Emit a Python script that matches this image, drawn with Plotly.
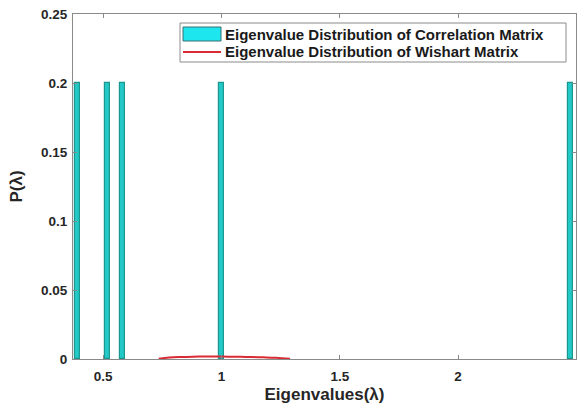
import plotly.graph_objects as go

# Eigenvalues of the correlation matrix and their relative frequencies
eigenvalues = [0.390, 0.519, 0.582, 1.00, 2.473]
probabilities = [0.2, 0.2, 0.2, 0.2, 0.2]

# Theoretical (Wishart / Marchenko-Pastur) density sampled on its support
wishart_x = [0.735, 0.78, 0.83, 0.88, 0.93, 0.98, 1.03, 1.08, 1.13, 1.18, 1.23, 1.29]
wishart_p = [0.0002, 0.0011, 0.0015, 0.0017, 0.0018, 0.0018, 0.0017, 0.0016, 0.0014, 0.0012, 0.0009, 0.0002]

x_ticks = [0.5, 1, 1.5, 2]
x_tick_text = ["0.5", "1", "1.5", "2"]
y_ticks = [0, 0.05, 0.1, 0.15, 0.2, 0.25]
y_tick_text = ["0", "0.05", "0.1", "0.15", "0.2", "0.25"]

legend_labels = [
    "Eigenvalue Distribution of Correlation Matrix",
    "Eigenvalue Distribution of Wishart Matrix",
]

bar_fill = "#22c9c6"
bar_edge = "#1c9690"
curve_color = "#d92b33"
axis_color = "#8a8a8a"
font_family = "Liberation Sans, Arial, sans-serif"

W, H = 577, 410
M_L, M_R, M_T, M_B = 73, 1, 14, 51
PW, PH = W - M_L - M_R, H - M_T - M_B


def px_x(p):
    # pixel column -> paper x
    return (p - M_L) / PW


def px_y(p):
    # pixel row -> paper y
    return (H - M_B - p) / PH


fig = go.Figure()
fig.add_trace(go.Bar(
    x=eigenvalues,
    y=probabilities,
    width=0.021,
    marker=dict(color=bar_fill, line=dict(color=bar_edge, width=1.2)),
    name=legend_labels[0],
    showlegend=False,
))
fig.add_trace(go.Scatter(
    x=wishart_x,
    y=wishart_p,
    mode="lines",
    line=dict(color=curve_color, width=2, shape="spline"),
    name=legend_labels[1],
    showlegend=False,
))

# Legend box drawn in paper coordinates
shapes = [
    dict(type="rect", xref="paper", yref="paper",
         x0=px_x(180), x1=px_x(566), y0=px_y(62), y1=px_y(23),
         line=dict(color=axis_color, width=1), fillcolor="white", layer="above"),
    dict(type="rect", xref="paper", yref="paper",
         x0=px_x(183), x1=px_x(221), y0=px_y(41), y1=px_y(27),
         line=dict(color="#3a6f73", width=1), fillcolor="#1ee6ee", layer="above"),
    dict(type="line", xref="paper", yref="paper",
         x0=px_x(183), x1=px_x(221), y0=px_y(52), y1=px_y(52),
         line=dict(color=curve_color, width=2), layer="above"),
]
annotations = [
    dict(xref="paper", yref="paper", x=px_x(223), y=px_y(row_y),
         xanchor="left", yanchor="middle", showarrow=False,
         text="<b>%s</b>" % label,
         font=dict(family=font_family, size=15, color="#1a1a1a"))
    for label, row_y in zip(legend_labels, [34, 51])
]

axis_common = dict(
    showline=True,
    linecolor=axis_color,
    linewidth=1,
    mirror="ticks",
    ticks="inside",
    ticklen=4,
    tickcolor=axis_color,
    showgrid=False,
    zeroline=False,
    tickfont=dict(family=font_family, size=13.5, color="#262626"),
)

fig.update_layout(
    width=W,
    height=H,
    margin=dict(l=M_L, r=M_R, t=M_T, b=M_B),
    paper_bgcolor="white",
    plot_bgcolor="white",
    bargap=0,
    shapes=shapes,
    annotations=annotations,
    xaxis=dict(
        range=[0.373, 2.498],
        tickvals=x_ticks,
        ticktext=["<b>%s</b>" % t for t in x_tick_text],
        ticklabelstandoff=5,
        title=dict(text="<b>Eigenvalues(λ)</b>", font=dict(family=font_family, size=17, color="#262626"), standoff=4),
        **axis_common,
    ),
    yaxis=dict(
        range=[0, 0.25],
        tickvals=y_ticks,
        ticktext=["<b>%s</b>" % t for t in y_tick_text],
        ticklabelstandoff=2,
        title=dict(text="<b>P(λ)</b>", font=dict(family=font_family, size=17, color="#262626"), standoff=14),
        **axis_common,
    ),
)

fig.write_html("out.html")
